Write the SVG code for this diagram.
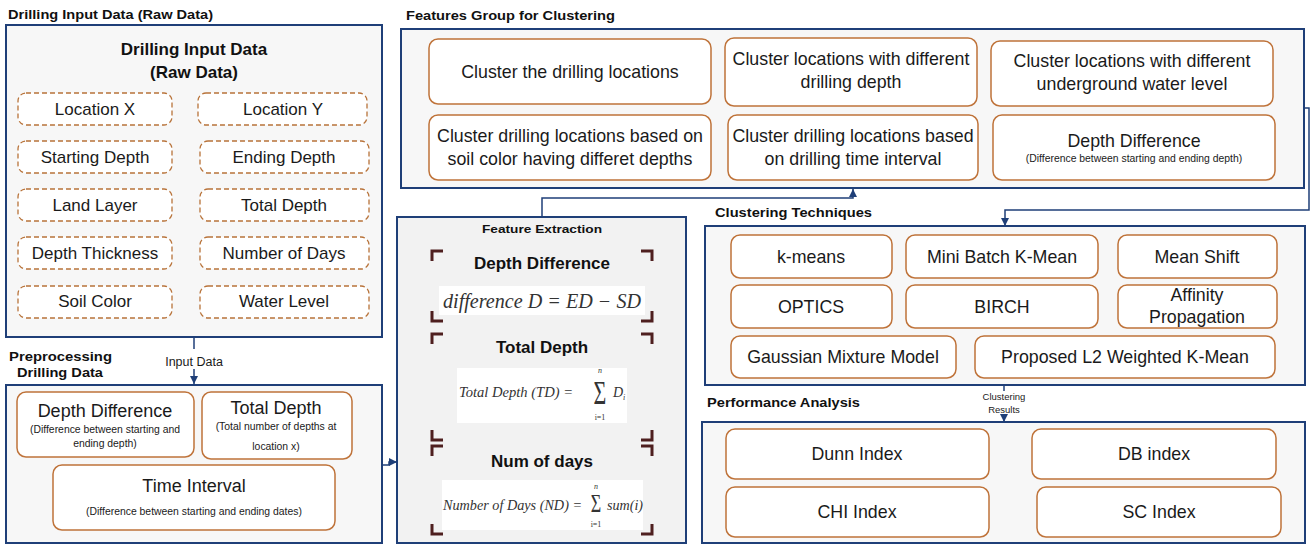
<svg xmlns="http://www.w3.org/2000/svg" width="1310" height="544" viewBox="0 0 1310 544">
<defs>
<style>
.bg{fill:#ffffff}
.panel{fill:#f7f7f7;stroke:#1f3f78;stroke-width:2}
.fe{fill:#f2f2f2;stroke:#1f3f78;stroke-width:2}
.box{fill:#ffffff;stroke:#bf733a;stroke-width:1.5}
.dbox{fill:#ffffff;stroke:#b8733a;stroke-width:1.3;stroke-dasharray:5 3}
.hdr{font-family:'Liberation Sans',Arial,sans-serif;font-weight:bold;font-size:13px;fill:#111}
.t{font-family:'Liberation Sans',Arial,sans-serif;font-size:17px;fill:#1a1a1a;text-anchor:middle}
.tb{font-family:'Liberation Sans',Arial,sans-serif;font-size:17px;font-weight:bold;fill:#111;text-anchor:middle}
.big{font-family:'Liberation Sans',Arial,sans-serif;font-size:18px;fill:#1a1a1a;text-anchor:middle}
.fg{font-family:'Liberation Sans',Arial,sans-serif;font-size:17.8px;fill:#1a1a1a;text-anchor:middle}
.sm{font-family:'Liberation Sans',Arial,sans-serif;font-size:10.4px;fill:#1a1a1a;text-anchor:middle}
.lbl{font-family:'Liberation Sans',Arial,sans-serif;font-size:12.5px;fill:#1a1a1a;text-anchor:middle}
.lbls{font-family:'Liberation Sans',Arial,sans-serif;font-size:9.5px;fill:#1a1a1a;text-anchor:middle}
.conn{fill:none;stroke:#1f3f78;stroke-width:1.5}
.brk{fill:none;stroke:#4e1f1f;stroke-width:3}
.fbox{fill:#ffffff;stroke:none}
.math{font-family:'Liberation Serif','Times New Roman',serif;font-style:italic;fill:#333}
.mup{font-family:'Liberation Serif','Times New Roman',serif;fill:#333;text-anchor:middle}
</style>
<marker id="ah" viewBox="0 0 10 10" refX="10" refY="5" markerWidth="8" markerHeight="8" markerUnits="userSpaceOnUse" orient="auto">
<path d="M0,0 L10,5 L0,10 z" fill="#1f3f78"/>
</marker>
</defs>
<rect class="bg" x="0" y="0" width="1310" height="544"/>

<!-- Drilling Input Data (Raw Data) -->
<g id="raw-data">
<text class="hdr" x="8" y="18.5" textLength="205" lengthAdjust="spacingAndGlyphs">Drilling Input Data (Raw Data)</text>
<rect class="panel" x="6" y="25" width="376" height="312"/>
<text class="tb" x="194" y="55">Drilling Input Data</text>
<text class="tb" x="194" y="78">(Raw Data)</text>
<g id="raw-location-x"><rect class="dbox" x="18" y="93" width="154" height="32" rx="8"/><text class="t" x="95" y="115">Location X</text></g>
<g id="raw-location-y"><rect class="dbox" x="198" y="93" width="169" height="32" rx="8"/><text class="t" x="283" y="115">Location Y</text></g>
<g id="raw-starting-depth"><rect class="dbox" x="18" y="141" width="154" height="32" rx="8"/><text class="t" x="95" y="163">Starting Depth</text></g>
<g id="raw-ending-depth"><rect class="dbox" x="200" y="141" width="169" height="32" rx="8"/><text class="t" x="284" y="163">Ending Depth</text></g>
<g id="raw-land-layer"><rect class="dbox" x="18" y="189" width="154" height="32" rx="8"/><text class="t" x="95" y="211">Land Layer</text></g>
<g id="raw-total-depth"><rect class="dbox" x="200" y="189" width="169" height="32" rx="8"/><text class="t" x="284" y="211">Total Depth</text></g>
<g id="raw-depth-thickness"><rect class="dbox" x="18" y="237" width="154" height="32" rx="8"/><text class="t" x="95" y="259">Depth Thickness</text></g>
<g id="raw-number-of-days"><rect class="dbox" x="200" y="237" width="169" height="32" rx="8"/><text class="t" x="284" y="259">Number of Days</text></g>
<g id="raw-soil-color"><rect class="dbox" x="18" y="286" width="154" height="32" rx="8"/><text class="t" x="95" y="307">Soil Color</text></g>
<g id="raw-water-level"><rect class="dbox" x="200" y="286" width="169" height="32" rx="8"/><text class="t" x="284" y="307">Water Level</text></g>
</g>

<!-- Preprocessing -->
<g id="preprocessing">
<text class="hdr" x="9" y="361" textLength="103" lengthAdjust="spacingAndGlyphs">Preprocessing</text>
<text class="hdr" x="17" y="377" textLength="86" lengthAdjust="spacingAndGlyphs">Drilling Data</text>
<rect class="panel" x="6" y="385" width="376" height="158"/>
<g id="pre-depth-difference"><rect class="box" x="17" y="392" width="177" height="65" rx="9"/>
<text class="big" x="105" y="417">Depth Difference</text>
<text class="sm" x="105" y="433">(Difference between starting and</text>
<text class="sm" x="105" y="447">ending depth)</text></g>
<g id="pre-total-depth"><rect class="box" x="202" y="392" width="150" height="67" rx="9"/>
<text class="big" x="276" y="414">Total Depth</text>
<text class="sm" x="276" y="430">(Total number of depths at</text>
<text class="sm" x="276" y="450">location x)</text></g>
<g id="pre-time-interval"><rect class="box" x="53" y="465" width="282" height="65" rx="9"/>
<text class="big" x="194" y="492">Time Interval</text>
<text class="sm" x="194" y="515">(Difference between starting and ending dates)</text></g>
</g>

<!-- Feature Extraction -->
<g id="feature-extraction">
<rect class="fe" x="397" y="217" width="289" height="326"/>
<text class="hdr" x="482" y="233" style="font-size:11.5px" textLength="120" lengthAdjust="spacingAndGlyphs">Feature Extraction</text>
<path class="brk" d="M432 261 V251 H443 M641 251 H652 V261 M432 311 V321 H443 M641 321 H652 V311"/>
<path class="brk" d="M432 344 V334 H443 M641 334 H652 V344 M432 430 V440 H443 M641 440 H652 V430"/>
<path class="brk" d="M432 456 V446 H443 M641 446 H652 V456 M432 524 V534 H443 M641 534 H652 V524"/>
<text class="tb" x="542" y="269">Depth Difference</text>
<rect class="fbox" x="439" y="286" width="206" height="29"/>
<text class="math" x="443" y="308" font-size="20" textLength="198" lengthAdjust="spacingAndGlyphs">difference D = ED − SD</text>
<text class="tb" x="542" y="353">Total Depth</text>
<rect class="fbox" x="457" y="368" width="170" height="55"/>
<text class="math" x="459" y="397" font-size="14.5" textLength="114" lengthAdjust="spacingAndGlyphs">Total Depth (TD) =</text>
<text class="mup" font-size="22" transform="translate(600,404) scale(1,1.5)" x="0" y="0">Σ</text>
<text class="math" x="598" y="372.5" font-size="8">n</text>
<text class="mup" x="600" y="420" font-size="8">i=1</text>
<text class="math" x="613" y="397" font-size="14">D</text>
<text class="math" x="623" y="400" font-size="8">i</text>
<text class="tb" x="542" y="467">Num of days</text>
<rect class="fbox" x="442" y="480" width="201" height="50"/>
<text class="math" x="443" y="510" font-size="14" textLength="139" lengthAdjust="spacingAndGlyphs">Number of Days (ND) =</text>
<text class="mup" font-size="18" transform="translate(596,512) scale(1,1.4)" x="0" y="0">Σ</text>
<text class="math" x="594" y="488.5" font-size="8">n</text>
<text class="mup" x="596" y="526.5" font-size="8">i=1</text>
<text class="math" x="607" y="510" font-size="14" textLength="36" lengthAdjust="spacingAndGlyphs">sum(i)</text>
</g>

<!-- Features Group for Clustering -->
<g id="features-group">
<text class="hdr" x="406" y="19.5" textLength="209" lengthAdjust="spacingAndGlyphs">Features Group for Clustering</text>
<rect class="panel" x="401" y="29" width="903" height="159"/>
<g id="fg-locations"><rect class="box" x="429" y="39" width="282" height="65" rx="9"/>
<text class="fg" x="570" y="78">Cluster the drilling locations</text></g>
<g id="fg-depth"><rect class="box" x="725" y="38" width="252" height="68" rx="9"/>
<text class="fg" x="851" y="65">Cluster locations with different</text>
<text class="fg" x="851" y="88">drilling depth</text></g>
<g id="fg-water"><rect class="box" x="991" y="41" width="282" height="65" rx="9"/>
<text class="fg" x="1132" y="67">Cluster locations with different</text>
<text class="fg" x="1132" y="90">underground water level</text></g>
<g id="fg-soil"><rect class="box" x="429" y="115" width="282" height="65" rx="9"/>
<text class="fg" x="570" y="142">Cluster drilling locations based on</text>
<text class="fg" x="570" y="165">soil color having differet depths</text></g>
<g id="fg-time"><rect class="box" x="728" y="115" width="250" height="65" rx="9"/>
<text class="fg" x="853" y="142">Cluster drilling locations based</text>
<text class="fg" x="853" y="165">on drilling time interval</text></g>
<g id="fg-depth-difference"><rect class="box" x="993" y="115" width="282" height="65" rx="9"/>
<text class="fg" x="1134" y="147">Depth Difference</text>
<text class="sm" x="1134" y="162">(Difference between starting and ending depth)</text></g>
</g>

<!-- Clustering Techniques -->
<g id="clustering-techniques">
<text class="hdr" x="715" y="217" textLength="157" lengthAdjust="spacingAndGlyphs">Clustering Techniques</text>
<rect class="panel" x="705" y="226" width="600" height="159"/>
<g id="ct-kmeans"><rect class="box" x="731" y="235" width="161" height="43" rx="9"/><text class="fg" x="811" y="263">k-means</text></g>
<g id="ct-minibatch"><rect class="box" x="906" y="235" width="192" height="43" rx="9"/><text class="fg" x="1002" y="263">Mini Batch K-Mean</text></g>
<g id="ct-meanshift"><rect class="box" x="1118" y="235" width="159" height="43" rx="9"/><text class="fg" x="1197" y="263">Mean Shift</text></g>
<g id="ct-optics"><rect class="box" x="731" y="285" width="161" height="43" rx="9"/><text class="fg" x="811" y="313">OPTICS</text></g>
<g id="ct-birch"><rect class="box" x="906" y="285" width="192" height="43" rx="9"/><text class="fg" x="1002" y="313">BIRCH</text></g>
<g id="ct-affinity"><rect class="box" x="1118" y="285" width="159" height="43" rx="9"/><text class="fg" x="1197" y="301">Affinity</text><text class="fg" x="1197" y="323">Propagation</text></g>
<g id="ct-gmm"><rect class="box" x="731" y="336" width="225" height="42" rx="9"/><text class="fg" x="843" y="363">Gaussian Mixture Model</text></g>
<g id="ct-l2"><rect class="box" x="975" y="336" width="300" height="42" rx="9"/><text class="fg" x="1125" y="363">Proposed L2 Weighted K-Mean</text></g>
</g>

<!-- Performance Analysis -->
<g id="performance-analysis">
<text class="hdr" x="707" y="407" textLength="153" lengthAdjust="spacingAndGlyphs">Performance Analysis</text>
<rect class="panel" x="702" y="422" width="603" height="121"/>
<g id="pa-dunn"><rect class="box" x="726" y="429" width="263" height="50" rx="9"/><text class="fg" x="857" y="460">Dunn Index</text></g>
<g id="pa-db"><rect class="box" x="1032" y="429" width="244" height="50" rx="9"/><text class="fg" x="1154" y="460">DB index</text></g>
<g id="pa-chi"><rect class="box" x="726" y="487" width="263" height="50" rx="9"/><text class="fg" x="857" y="518">CHI Index</text></g>
<g id="pa-sc"><rect class="box" x="1037" y="487" width="244" height="50" rx="9"/><text class="fg" x="1159" y="518">SC Index</text></g>
</g>

<!-- Connectors -->
<g id="connectors">
<path class="conn" d="M194 337 V349"/>
<text class="lbl" x="194" y="366">Input Data</text>
<path class="conn" d="M194 369 V384" marker-end="url(#ah)"/>
<path class="conn" d="M382 465 H389 V462 H397" marker-end="url(#ah)"/>
<path class="conn" d="M542 217 V198 H853 V189" marker-end="url(#ah)"/>
<path class="conn" d="M1304 108 H1309 V210 H1005 V226" marker-end="url(#ah)"/>
<path class="conn" d="M1004 385 V391"/>
<text class="lbls" x="1004" y="400">Clustering</text>
<text class="lbls" x="1004" y="413">Results</text>
<path class="conn" d="M1004 417 V422" marker-end="url(#ah)"/>
</g>
</svg>
